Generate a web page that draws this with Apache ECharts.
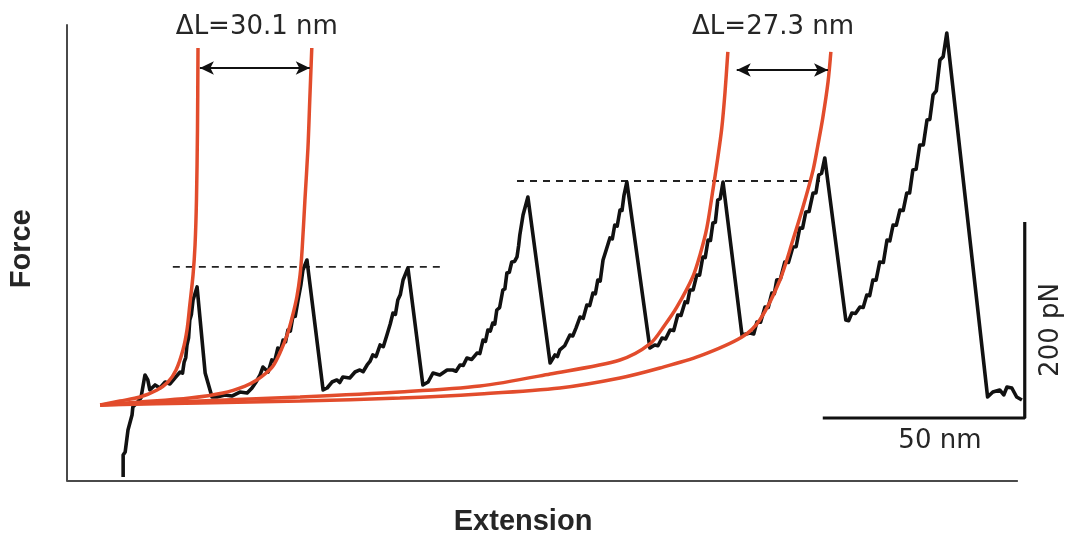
<!DOCTYPE html>
<html>
<head>
<meta charset="utf-8">
<script src="https://cdn.jsdelivr.net/npm/echarts@6/dist/echarts.min.js"></script>
<style>
  html, body { margin: 0; background: #fff; }
  #chart { width: 1074px; height: 535px; }
</style>
</head>
<body>
<div id="chart"></div>
<script>
// force-extension trace, [extension nm, force pN]
const trace = [
  [13.9, 4.1], [13.9, 26.5], [14.4, 29.6], [15.1, 52.0], [16.1, 67.3], [16.3, 75.5], [17.3, 79.6],
  [18.3, 84.7], [19.3, 108.2], [20.0, 103.1], [20.5, 92.9], [21.8, 98.0], [23.0, 94.9], [24.3, 101.0],
  [25.5, 99.0], [26.7, 105.1], [28.0, 111.2], [28.6, 110], [29.0, 121.4], [29.4, 126], [29.7, 138.8],
  [30.1, 146], [30.4, 164.3], [30.8, 170], [31.2, 184.7], [32.2, 198.0], [34.2, 110.2], [35.9, 85.7],
  [37.1, 85.7], [39.1, 87.8], [40.8, 86.7], [42.8, 90.8], [44.6, 89.8], [45.8, 94.9], [46.8, 101.0],
  [47.8, 108.2], [48.5, 116.3], [49.8, 111.2], [50.7, 123.5], [51.4, 122], [52.2, 135.7], [52.9, 134],
  [53.5, 143.9], [54.1, 142], [54.7, 154.1], [55.3, 153], [55.9, 167.3], [56.5, 168], [57.2, 184.7],
  [57.9, 200.0], [58.4, 215.3], [59.4, 225.5], [63.4, 92.9],
  [64.4, 94.9], [65.6, 101.0], [66.8, 103.1], [67.5, 100.5], [68.3, 106.1], [70.0, 105.1], [71.3, 111.2],
  [72.5, 113.3], [73.3, 111.5], [74.3, 118.4], [75.0, 122], [75.7, 128.6], [76.5, 127], [77.5, 138.8],
  [78.3, 137], [79.2, 149.0], [80.0, 160], [80.7, 171.4], [81.3, 170], [81.9, 184.7], [82.5, 190],
  [83.2, 205.1], [84.4, 217.3], [88.1, 98.0],
  [89.4, 101.0], [90.6, 110.2], [92.3, 108.2], [94.1, 113.3], [95.5, 113.3], [96.3, 112], [97.3, 118.4],
  [98.1, 118], [99.0, 125.5], [100.2, 124], [101.5, 130.6], [102.2, 130], [103.0, 143.9], [103.6, 142.5],
  [104.2, 154.1], [104.8, 153], [105.4, 161.2], [105.9, 160], [106.4, 174.5], [107.1, 177], [107.9, 194.9],
  [108.4, 196], [108.9, 212.2], [109.5, 213], [110.1, 223.5], [110.8, 224], [111.4, 228.6], [111.8, 240],
  [112.1, 251.0], [112.5, 252], [112.9, 271.4], [114.1, 289.8], [119.6, 120.4],
  [120.8, 128.6], [121.4, 127], [122.0, 133.7], [123.2, 138], [124.5, 149.0], [125.2, 148], [126.0, 156],
  [127.0, 167.3], [127.8, 166], [128.7, 179.6], [129.4, 179], [130.2, 191.8], [130.8, 191], [131.4, 205.1],
  [132.0, 204], [132.7, 225.5], [133.5, 236], [134.4, 248.0], [135.0, 247], [135.6, 261.2], [136.2, 260],
  [136.9, 276.5], [137.4, 276], [137.9, 291.8], [138.6, 305.1], [144.3, 135.7],
  [145.5, 138.8], [146.3, 138], [147.3, 145.9], [148.2, 145], [149.3, 154.1], [150.2, 153.5], [151.2, 169.4],
  [152.0, 169], [153.0, 182.7], [153.6, 182], [154.2, 194.9], [155.0, 195], [155.9, 210.2], [156.6, 210],
  [157.4, 228.6], [158.0, 228], [158.7, 245.9], [159.3, 245.5], [159.9, 263.3], [160.5, 264], [161.1, 286.7],
  [161.7, 288], [162.4, 305.1], [167.1, 149.0],
  [169.1, 151.0], [170.0, 150], [170.8, 162.2], [171.7, 162], [172.8, 177.6], [173.6, 177], [174.5, 191.8],
  [175.1, 191], [175.7, 205.1], [176.6, 206], [177.7, 223.5], [178.6, 223], [179.7, 238.8], [180.5, 239],
  [181.4, 258.2], [182.1, 258], [182.9, 274.5], [183.7, 275], [184.7, 293.9], [185.4, 294], [186.1, 312.2],
  [186.8, 314], [187.6, 329.6], [192.8, 164.3],
  [193.5, 163.5], [194.3, 171.4], [195.2, 171], [196.3, 177.6], [197.1, 177], [198.0, 189.8], [198.7, 189],
  [199.5, 205.1], [200.3, 205], [201.2, 223.5], [202.1, 223], [203.0, 245.9], [203.7, 245], [204.5, 261.2],
  [205.3, 261], [206.2, 276.5], [207.0, 276], [207.9, 293.9], [208.6, 294], [209.4, 317.3], [210.2, 318],
  [211.1, 342.9], [212.0, 343], [212.9, 368.4], [213.6, 369], [214.4, 393.9], [215.2, 398], [216.1, 429.6],
  [216.9, 433], [217.8, 457.1], [227.9, 85.7],
  [229.2, 90.8], [230.9, 92.9], [231.9, 87.8], [232.7, 95.9], [233.9, 94.9], [235.1, 85.7], [236.4, 82.7]
];

// worm-like-chain fits
const fitA = [[8.2, 77.6], [13.1, 81.6], [18.1, 85.7], [22.3, 92.9], [25.0, 101.0], [27.0, 113.3],
  [28.7, 133.7], [29.7, 154.1], [30.4, 179.6], [31.2, 210.2], [31.7, 240.8], [32.05, 286.7],
  [32.3, 358.2], [32.43, 441.8]];
const fitB = [[8.2, 77.6], [18.1, 80.6], [30.4, 84.7], [38.6, 89.8], [44.1, 96.9], [47.0, 103.1],
  [49.3, 110.2], [51.0, 117.3], [52.7, 130.6], [54.5, 149.0], [55.7, 166.3], [56.9, 187.8],
  [57.7, 210.2], [58.2, 235.7], [58.9, 286.7], [59.65, 339.8], [60.1, 388.8], [60.6, 441.8]];
const fitC = [[8.2, 77.6], [32.9, 81.6], [57.7, 85.7], [82.4, 90.8], [102.2, 96.9], [119.6, 109.2],
  [136.9, 123.5], [144.3, 139.8], [148.0, 159.2], [151.0, 177.6], [154.9, 208.2], [156.7, 230.6],
  [158.4, 258.2], [159.9, 296.9], [161.1, 329.6], [162.1, 360.2], [162.9, 396.9], [163.6, 437.8]];
const fitD = [[8.2, 77.6], [32.9, 79.6], [57.7, 81.6], [82.4, 84.7], [102.2, 88.8], [122.0, 94.9],
  [136.9, 105.1], [146.8, 115.3], [156.7, 127.6], [167.1, 146.9], [171.5, 164.3], [176.5, 205.1],
  [179.7, 245.9], [182.2, 279.6], [184.7, 317.3], [185.9, 342.9], [187.1, 370.4], [188.4, 407.1],
  [189.1, 437.8]];

// unfolding force levels (dashed)
const level1 = [[26.2, 218.4], [93.6, 218.4]];
const level2 = [[111.4, 306.1], [186.4, 306.1]];

// contour length increments
const deltaL = [
  { from: [32.9, 421.4], to: [60.1, 421.4], text: 'ΔL=30.1 nm', at: [47.0, 463.3] },
  { from: [165.8, 419.4], to: [188.4, 419.4], text: 'ΔL=27.3 nm', at: [174.8, 463.3] }
];

// scale bars: 50 nm by 200 pN
const barOrigin = [187.1, 64.3];
const barX = 50;
const barY = 200;

const AXIS_END = 235.4;
const X_MAX = 238.4;
const Y_MAX = 465.3;

const red = '#e24c2c';
const ink = '#111';

const chart = echarts.init(document.getElementById('chart'));

const fitSeries = [fitA, fitB, fitC, fitD].map(d => ({
  type: 'line',
  data: d,
  smooth: 0.3,
  symbol: 'none',
  z: 4,
  lineStyle: { color: red, width: 3.5 }
}));

const textStyle = { color: '#262626', fontFamily: 'DejaVu Sans', fontSize: 26 };
const boldStyle = { fontFamily: 'Liberation Sans', fontWeight: 'bold', fontSize: 29 };

chart.setOption({
  animation: false,
  grid: { left: 67, right: 44, top: 25, bottom: 54 },
  xAxis: {
    type: 'value', min: 0, max: X_MAX,
    axisLine: { show: false },
    axisTick: { show: false }, axisLabel: { show: false }, splitLine: { show: false }
  },
  yAxis: {
    type: 'value', min: 0, max: Y_MAX,
    axisLine: { show: true, lineStyle: { color: '#4a4a4a', width: 2 } },
    axisTick: { show: false }, axisLabel: { show: false }, splitLine: { show: false }
  },
  series: [
    {
      // extension axis stops short of the scale bar
      type: 'line', data: [[0, 0], [AXIS_END, 0]], symbol: 'none', z: 1,
      lineStyle: { color: '#4a4a4a', width: 2 }
    },
    {
      type: 'line', data: trace, symbol: 'none', z: 3,
      lineStyle: { color: ink, width: 3.6, join: 'round' }
    },
    ...fitSeries,
    ...[level1, level2].map(d => ({
      type: 'line', data: d, symbol: 'none', z: 2,
      lineStyle: { color: '#222', width: 1.8, type: [7, 6] }
    })),
    {
      type: 'line', data: [], z: 5,
      markLine: {
        silent: true, symbol: ['arrow', 'arrow'], symbolSize: [10, 14],
        label: { show: false },
        lineStyle: { color: ink, width: 2, type: 'solid' },
        data: deltaL.map(d => [{ coord: d.from }, { coord: d.to }])
      }
    },
    {
      type: 'line', symbol: 'none', z: 3,
      lineStyle: { color: ink, width: 3.2 },
      data: [barOrigin, [barOrigin[0] + barX, barOrigin[1]], [barOrigin[0] + barX, barOrigin[1] + barY]]
    },
    {
      type: 'scatter', symbolSize: 0, clip: false, z: 6,
      itemStyle: { opacity: 1 },
      label: { show: true, position: 'inside', formatter: '{b}', ...textStyle },
      data: [
        ...deltaL.map(d => ({ name: d.text, value: d.at })),
        { name: barX + ' nm', value: [216.1, 40.8] },
        { name: barY + ' pN', value: [243.6, 154.1], label: { rotate: 90 } },
        { name: 'Extension', value: [112.9, -41.8], label: boldStyle },
        { name: 'Force', value: [-11.1, 237.0], label: { rotate: 90, ...boldStyle } }
      ]
    }
  ]
});
</script>
</body>
</html>
